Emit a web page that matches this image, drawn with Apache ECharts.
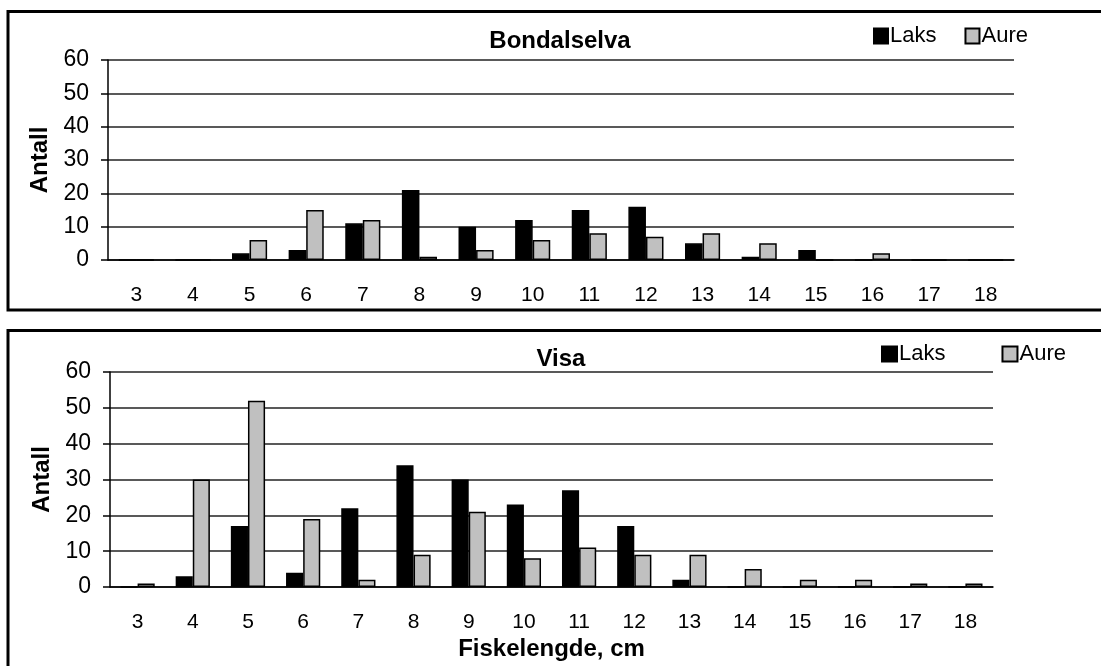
<!DOCTYPE html>
<html>
<head>
<meta charset="utf-8">
<script src="https://cdn.jsdelivr.net/npm/echarts@6/dist/echarts.min.js"></script>
<style>
    html, body { margin: 0; padding: 0; background: #fff; }
    #chart { width: 1101px; height: 666px; }
</style>
</head>
<body>
<div id="chart"></div>
<script>
// kategorier (fiskelengde, cm)
var lengder = ['3', '4', '5', '6', '7', '8', '9', '10', '11', '12', '13', '14', '15', '16', '17', '18'];

// Bondalselva
var bondalLaks = [0, 0, 2, 3, 11, 21, 10, 12, 15, 16, 5, 1, 3, 0, 0, 0];
var bondalAure = [0, 0, 6, 15, 12, 1, 3, 6, 8, 7, 8, 5, 0, 2, 0, 0];

// Visa
var visaLaks = [0, 3, 17, 4, 22, 34, 30, 23, 27, 17, 2, 0, 0, 0, 0, 0];
var visaAure = [1, 30, 52, 19, 2, 9, 21, 8, 11, 9, 9, 5, 2, 2, 1, 1];

var font = 'Liberation Sans, Arial, sans-serif';

var myChart = echarts.init(document.getElementById('chart'));

function xAkse(idx, name) {
    return {
        type: 'category',
        gridIndex: idx,
        data: lengder,
        name: name,
        nameLocation: 'middle',
        nameGap: 50,
        nameTextStyle: { fontFamily: font, fontSize: 24, fontWeight: 'bold', color: '#000' },
        axisLine: { lineStyle: { color: '#000', width: 1.5 } },
        axisTick: { length: 7, lineStyle: { color: '#000', width: 1.5 } },
        axisLabel: { margin: 25, fontFamily: font, fontSize: 21, color: '#000' }
    };
}

function yAkse(idx) {
    return {
        type: 'value',
        gridIndex: idx,
        min: 0,
        max: 60,
        interval: 10,
        name: 'Antall',
        nameLocation: 'middle',
        nameGap: 46,
        nameTextStyle: { fontFamily: font, fontSize: 24, fontWeight: 'bold', color: '#000' },
        axisLine: { show: true, lineStyle: { color: '#000', width: 1.5 } },
        axisTick: { show: true, length: 7, lineStyle: { color: '#000', width: 1.5 } },
        axisLabel: { margin: 19, fontFamily: font, fontSize: 23, color: '#000' },
        splitLine: { lineStyle: { color: '#222', width: 1.5 } }
    };
}

function serie(name, data, idx) {
    return {
        name: name,
        type: 'bar',
        xAxisIndex: idx,
        yAxisIndex: idx,
        data: data,
        barGap: '0%',
        barCategoryGap: '38%',
        itemStyle: {
            color: name == 'Laks' ? '#000' : '#c0c0c0',
            borderColor: '#000',
            borderWidth: 1.5
        }
    };
}

var option = {
    animation: false,
    backgroundColor: '#fff',
    title: [{
        text: 'Bondalselva',
        left: 555,
        top: 24,
        textAlign: 'center',
        textStyle: { fontFamily: font, fontSize: 24, fontWeight: 'bold', color: '#000' }
    }, {
        text: 'Visa',
        left: 556,
        top: 342,
        textAlign: 'center',
        textStyle: { fontFamily: font, fontSize: 24, fontWeight: 'bold', color: '#000' }
    }],
    legend: [{
        left: 873,
        top: 25,
        padding: 0,
        itemWidth: 14,
        itemHeight: 15,
        itemGap: 28,
        icon: 'rect',
        data: ['Laks', 'Aure'],
        textStyle: { fontFamily: font, fontSize: 22, color: '#000', padding: [0, 0, 0, -3] }
    }, {
        left: 881,
        top: 343,
        padding: 0,
        itemWidth: 15,
        itemHeight: 15,
        itemGap: 56,
        icon: 'rect',
        data: ['Laks', 'Aure'],
        textStyle: { fontFamily: font, fontSize: 22, color: '#000', padding: [0, 0, 0, -3] }
    }],
    grid: [
        { left: 108, right: 87, top: 60, height: 200 },
        { left: 110, right: 108, top: 372, height: 215 }
    ],
    xAxis: [xAkse(0, ''), xAkse(1, 'Fiskelengde, cm')],
    yAxis: [yAkse(0), yAkse(1)],
    series: [
        serie('Laks', bondalLaks, 0),
        serie('Aure', bondalAure, 0),
        serie('Laks', visaLaks, 1),
        serie('Aure', visaAure, 1)
    ],
    graphic: [{
        type: 'rect',
        shape: { x: 8, y: 11.5, width: 1100, height: 298.5 },
        style: { fill: 'none', stroke: '#000', lineWidth: 3 },
        silent: true
    }, {
        type: 'rect',
        shape: { x: 8, y: 330.5, width: 1100, height: 340 },
        style: { fill: 'none', stroke: '#000', lineWidth: 3 },
        silent: true
    }]
};

myChart.setOption(option);
</script>
</body>
</html>
